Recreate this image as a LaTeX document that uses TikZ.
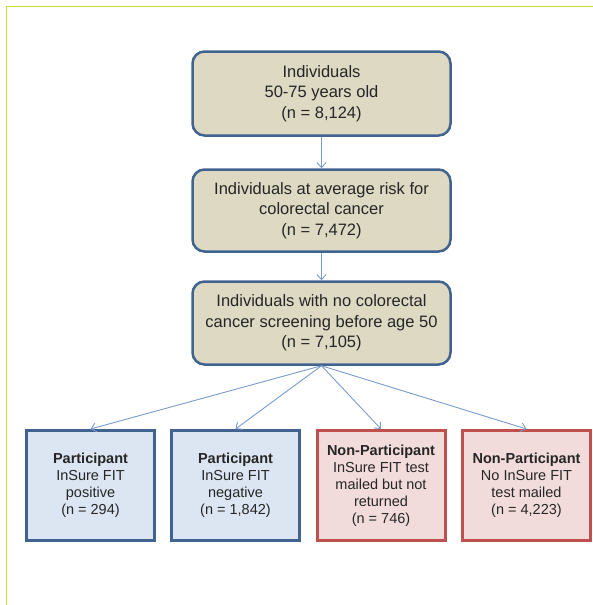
\documentclass[tikz,border=0pt]{standalone}
\usepackage{fontspec}
\setmainfont{Liberation Sans}
\usetikzlibrary{arrows.meta}
\definecolor{tanfill}{HTML}{DDD9C3}
\definecolor{boxblue}{HTML}{41638F}
\definecolor{bluefill}{HTML}{DCE6F2}
\definecolor{redline}{HTML}{C0504D}
\definecolor{redfill}{HTML}{F2DCDB}
\definecolor{arrowblue}{HTML}{7A9BCB}
\definecolor{frameyellow}{HTML}{CCDC2A}

\begin{document}
\begin{tikzpicture}[x=1pt,y=-1pt,
  top/.style={draw=boxblue,line width=2.5pt,fill=tanfill,rounded corners=12pt,
    minimum width=258pt,align=center,text=black!85,
    font=\fontsize{16.5}{20.5}\selectfont},
  low/.style={line width=3pt,minimum width=128pt,minimum height=110pt,
    align=center,text=black!85,font=\fontsize{14.5}{17}\selectfont},
  part/.style={low,draw=boxblue,fill=bluefill},
  nonpart/.style={low,draw=redline,fill=redfill},
  flow/.style={arrowblue,line width=0.9pt,-{Straight Barb[length=5pt,width=9pt]}}]
\useasboundingbox (0,0) rectangle (593,605);
\draw[frameyellow,line width=1.5pt] (6.5,605) -- (6.5,6.5) -- (593,6.5);

% selection steps
\node[top,minimum height=84pt] (I1) at (321.5,93.5) {Individuals\\50-75 years old\\(n = 8,124)};
\node[top,minimum height=82pt] (I2) at (321.5,210.5) {Individuals at average risk for\\colorectal cancer\\(n = 7,472)};
\node[top,minimum height=83pt] (I3) at (321.5,323) {Individuals with no colorectal\\cancer screening before age 50\\(n = 7,105)};

% outcome groups
\node[part] (P1) at (90.5,485.5) {\textbf{Participant}\\InSure FIT\\positive\\(n = 294)};
\node[part] (P2) at (235.5,485.5) {\textbf{Participant}\\InSure FIT\\negative\\(n = 1,842)};
\node[nonpart] (N1) at (381,485.5) {\textbf{Non-Participant}\\InSure FIT test\\mailed but not\\returned\\(n = 746)};
\node[nonpart] (N2) at (526.5,485.5) {\textbf{Non-Participant}\\No InSure FIT\\test mailed\\(n = 4,223)};

\draw[flow] (I1) -- (I2);
\draw[flow] (I2) -- (I3);
\foreach \g in {P1,P2,N1,N2}
  \draw[flow] (I3.south) -- (\g.north);

\end{tikzpicture}
\end{document}
